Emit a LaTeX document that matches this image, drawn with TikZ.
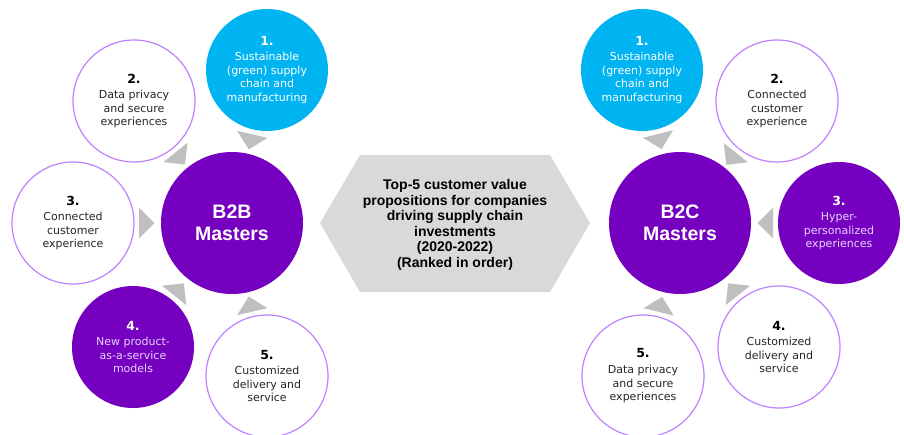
\documentclass[tikz,border=0pt]{standalone}
\usepackage{fontspec}
\setmainfont{DejaVu Sans}
\newfontfamily\headfont{Liberation Sans}
\usetikzlibrary{calc}

\definecolor{skyblue}{HTML}{00B4F2}
\definecolor{deeppurple}{HTML}{7500C0}
\definecolor{lilac}{HTML}{BE82FF}
\definecolor{lavtext}{HTML}{E8D2FF}
\definecolor{chevron}{HTML}{BFBFBF}
\definecolor{hexfill}{HTML}{D9D9D9}
\definecolor{ink}{HTML}{262626}

\tikzset{
  sat/.style={circle, minimum size=122pt, inner sep=0pt, align=center,
    font=\fontsize{11}{13.8}\selectfont},
  whitesat/.style={sat, draw=lilac, line width=1.2pt, fill=white, text=ink},
  bluesat/.style={sat, fill=skyblue, text=white},
  purplesat/.style={sat, fill=deeppurple, text=lavtext},
  hub/.style={circle, minimum size=142pt, inner sep=0pt, fill=deeppurple,
    text=white, align=center, font=\headfont\bfseries\fontsize{19.5}{22}\selectfont},
  hextext/.style={align=center, text=black,
    font=\headfont\bfseries\fontsize{14}{15.5}\selectfont},
  pointerfill/.style={fill=chevron},
}

% rank numbers
\newcommand{\rankdark}[1]{{\color{black}\fontsize{12.5}{13.8}\selectfont\bfseries #1}\\[1.5pt]}
\newcommand{\ranklight}[1]{{\color{white}\fontsize{12.5}{13.8}\selectfont\bfseries #1}\\[1.5pt]}

% grey pointer between a satellite (#1, radius #3) and its hub (#2)
\newcommand{\pointer}[3]{%
  \path ($(#1)!#3+5pt!(#2)$) coordinate (pb)
        ($(#1)!#3+20.5pt!(#2)$) coordinate (pa);
  \fill[pointerfill] (pa) -- ($(pb)!15.5pt!90:(pa)$) -- ($(pb)!15.5pt!-90:(pa)$) -- cycle;}

\begin{document}
\begin{tikzpicture}[x=1pt, y=-1pt]
  \useasboundingbox (0,0) rectangle (904,434);
  \clip (0,0) rectangle (904,434);

  % central hexagon
  \fill[hexfill] (320,223) -- (360,155) -- (550,155) -- (590,223) -- (550,292) -- (360,292) -- cycle;
  \node[hextext] (hex) at (455,225) {Top-5 customer value\\propositions for companies\\driving supply chain\\investments\\(2020-2022)\\(Ranked in order)};

  % B2B cluster
  \node[hub] (b2b) at (232,223) {B2B\\Masters};
  \node[bluesat]   (l1) at (267,70)  {\ranklight{1.}Sustainable\\(green) supply\\chain and\\manufacturing};
  \node[whitesat]  (l2) at (134,101) {\rankdark{2.}Data privacy\\and secure\\experiences};
  \node[whitesat]  (l3) at (73,223)  {\rankdark{3.}Connected\\customer\\experience};
  \node[purplesat] (l4) at (133,347) {\ranklight{4.}New product-\\as-a-service\\models};
  \node[whitesat]  (l5) at (267,376) {\rankdark{5.}Customized\\delivery and\\service};

  % B2C cluster
  \node[hub] (b2c) at (680,223) {B2C\\Masters};
  \node[bluesat]   (r1) at (642,70)  {\ranklight{1.}Sustainable\\(green) supply\\chain and\\manufacturing};
  \node[whitesat]  (r2) at (777,101) {\rankdark{2.}Connected\\customer\\experience};
  \node[purplesat] (r3) at (839,223) {\ranklight{3.}Hyper-\\personalized\\experiences};
  \node[whitesat]  (r4) at (779,347) {\rankdark{4.}Customized\\delivery and\\service};
  \node[whitesat]  (r5) at (643,376) {\rankdark{5.}Data privacy\\and secure\\experiences};

  % pointers toward the hubs
  \foreach \s in {l1,l2,l3,l4,l5} {\pointer{\s}{b2b}{61pt}}
  \foreach \s in {r1,r2,r3,r4,r5} {\pointer{\s}{b2c}{61pt}}
\end{tikzpicture}
\end{document}
